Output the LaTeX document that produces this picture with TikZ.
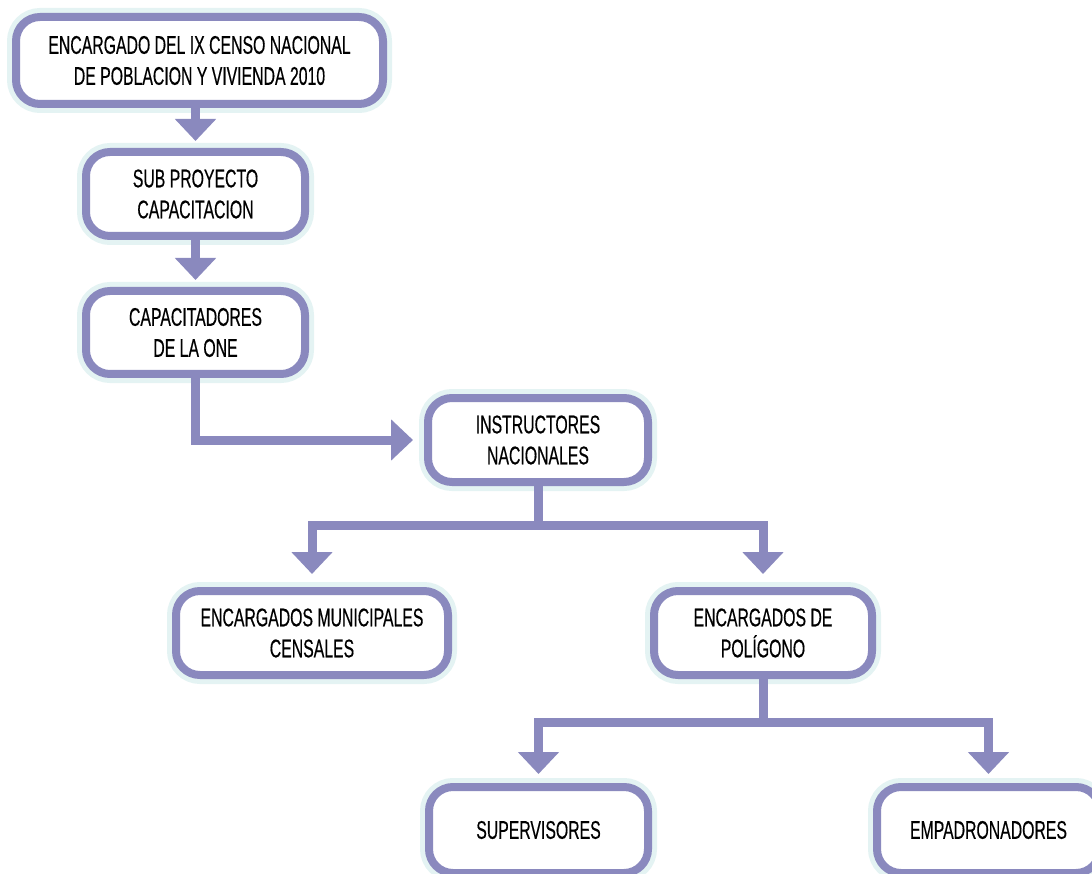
\documentclass[tikz,border=0pt]{standalone}
\usepackage{fontspec}
\setmainfont[FakeStretch=0.62,FakeBold=0.4]{Liberation Sans}
\usetikzlibrary{arrows.meta}
\definecolor{purp}{HTML}{8A89BE}
\definecolor{glow}{HTML}{E4F3F3}
\tikzset{
  box/.style={draw=purp, line width=8pt, fill=white, rounded corners=24pt,
    inner sep=0pt, align=center, font=\fontsize{25.5}{31}\selectfont,
    preaction={draw=glow, line width=18pt}},
  conn/.style={draw=purp, line width=9pt, line join=miter},
  arr/.style={conn, -{Triangle[width=40pt,length=22pt]}},
}
\begin{document}
\begin{tikzpicture}[x=1pt,y=-1pt]
\useasboundingbox (0,0) rectangle (1092,874);
\begin{scope}
\clip (0,0) rectangle (1092,874);
\node[box, minimum width=367pt, minimum height=87pt] (b1) at (199.5,60.5)
  {ENCARGADO DEL IX CENSO NACIONAL\\DE POBLACION Y VIVIENDA 2010};
\node[box, minimum width=219pt, minimum height=84pt] (b2) at (195.5,194)
  {SUB PROYECTO\\CAPACITACION};
\node[box, minimum width=219pt, minimum height=83pt] (b3) at (195.5,332.5)
  {CAPACITADORES\\DE LA ONE};
\node[box, minimum width=220pt, minimum height=84pt] (b4) at (538,440)
  {INSTRUCTORES\\NACIONALES};
\node[box, minimum width=272pt, minimum height=84pt] (b5) at (312,633)
  {ENCARGADOS MUNICIPALES\\CENSALES};
\node[box, minimum width=218pt, minimum height=84pt] (b6) at (763,633)
  {ENCARGADOS DE\\POLÍGONO};
\node[box, minimum width=219pt, minimum height=86pt] (b7) at (538.5,830)
  {SUPERVISORES};
\node[box, minimum width=223pt, minimum height=86pt] (b8) at (988.5,830)
  {EMPADRONADORES};

\coordinate (j1) at (538,525);
\coordinate (j2) at (763,722);

\draw[arr, shorten >=7pt] (b2.north |- b1.south) -- (b2.north);
\draw[arr, shorten >=7pt] (b3.north |- b2.south) -- (b3.north);
\draw[arr, shorten >=11pt] (b3.south) |- (b4.west);
\draw[conn] (b4.south) -- (j1);
\draw[arr, shorten >=13pt] (j1) -| (b5.north);
\draw[arr, shorten >=13pt] (j1) -| (b6.north);
\draw[conn] (b6.south) -- (j2);
\draw[arr, shorten >=9pt] (j2) -| (b7.north);
\draw[arr, shorten >=9pt] (j2) -| (b8.north);
\end{scope}
\end{tikzpicture}
\end{document}
